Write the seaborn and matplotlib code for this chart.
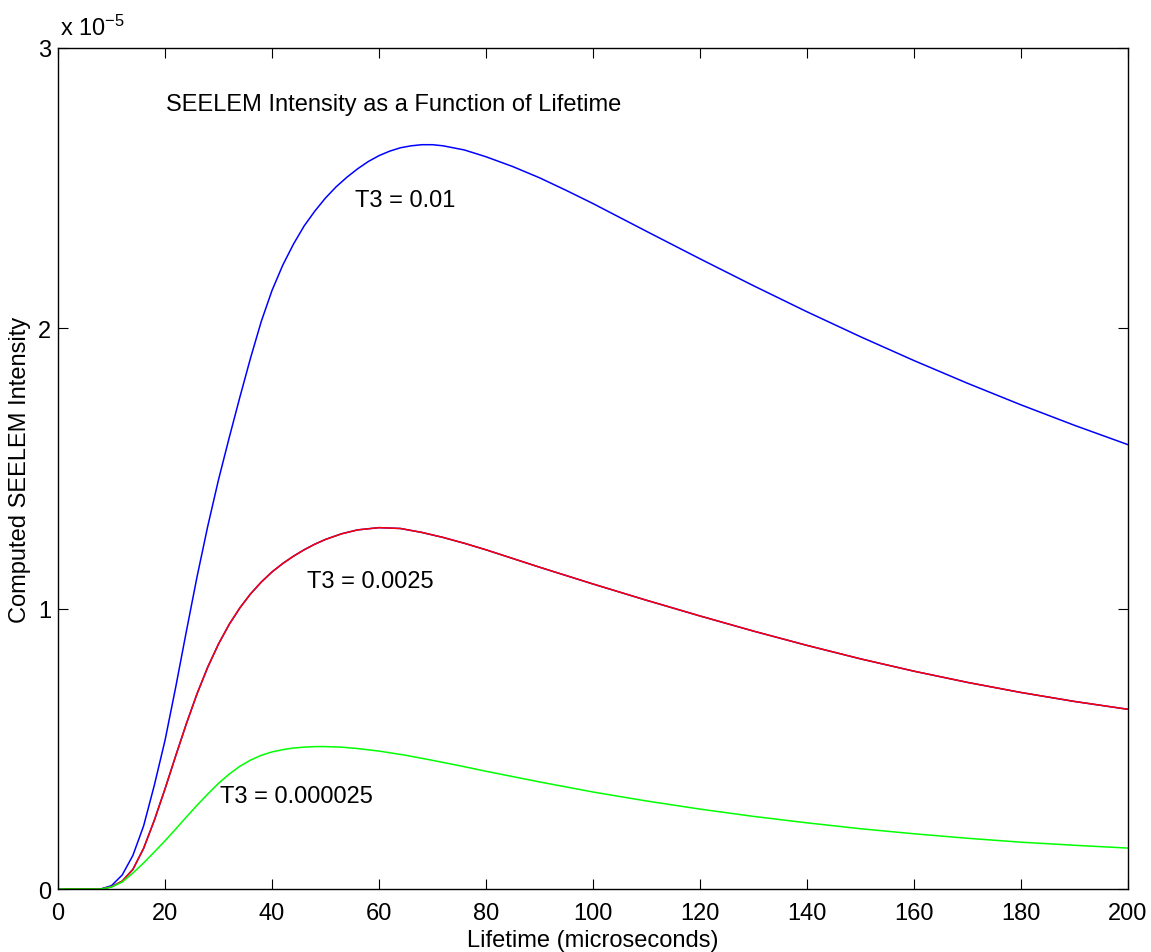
import pandas as pd
import seaborn as sns
import matplotlib.pyplot as plt

# -------------------------
# Data (intensity in units of 1e-5)
# -------------------------
lifetime_blue = [0, 5, 8, 10, 12, 14, 16, 18, 20, 22, 24, 26, 28, 30, 32, 34, 36, 38, 40,
                 42, 44, 46, 48, 50, 52, 54, 56, 58, 60, 62, 64, 66, 68, 70, 72, 76, 80,
                 85, 90, 95, 100, 110, 120, 130, 140, 150, 160, 170, 180, 190, 200]
t3_001 = [0, 0, 0, 0.012, 0.05, 0.12, 0.225, 0.37, 0.53, 0.72, 0.92, 1.115, 1.295, 1.46,
          1.61, 1.755, 1.895, 2.025, 2.135, 2.225, 2.30, 2.365, 2.418, 2.465, 2.505,
          2.539, 2.569, 2.595, 2.616, 2.632, 2.644, 2.651, 2.655, 2.655, 2.651, 2.636,
          2.612, 2.577, 2.537, 2.492, 2.445, 2.346, 2.248, 2.152, 2.059, 1.97, 1.885,
          1.804, 1.727, 1.654, 1.585]

lifetime_red = [0, 5, 8, 10, 12, 14, 16, 18, 20, 22, 24, 26, 28, 30, 32, 34, 36, 38, 40,
                42, 44, 46, 48, 50, 53, 56, 60, 64, 68, 72, 76, 80, 90, 100, 110, 120, 130,
                140, 150, 160, 170, 180, 190, 200]
t3_00025 = [0, 0, 0, 0.008, 0.028, 0.07, 0.145, 0.245, 0.357, 0.475, 0.59, 0.697, 0.792,
            0.874, 0.944, 1.003, 1.053, 1.095, 1.131, 1.161, 1.187, 1.21, 1.23, 1.247,
            1.267, 1.281, 1.289, 1.286, 1.272, 1.254, 1.233, 1.21, 1.148, 1.088, 1.03,
            0.974, 0.92, 0.869, 0.821, 0.777, 0.737, 0.701, 0.669, 0.641]

lifetime_green = [0, 5, 8, 10, 12, 14, 16, 18, 20, 22, 24, 26, 28, 30, 32, 34, 36, 38, 40,
                  42, 44, 46, 48, 50, 53, 56, 60, 65, 70, 75, 80, 90, 100, 110, 120, 130,
                  140, 150, 160, 170, 180, 190, 200]
t3_0000025 = [0, 0, 0, 0.007, 0.025, 0.057, 0.093, 0.132, 0.172, 0.214, 0.257, 0.299,
              0.339, 0.377, 0.41, 0.438, 0.46, 0.477, 0.489, 0.497, 0.503, 0.506, 0.508,
              0.508, 0.506, 0.501, 0.492, 0.477, 0.459, 0.44, 0.42, 0.382, 0.346, 0.314,
              0.285, 0.259, 0.236, 0.215, 0.197, 0.181, 0.167, 0.156, 0.146]

curve_names = ["blue_under", "T3 = 0.01", "T3 = 0.0025", "T3 = 0.000025"]

data = pd.concat([
    pd.DataFrame({"Lifetime": lifetime_red, "Intensity": t3_00025, "curve": curve_names[0]}),
    pd.DataFrame({"Lifetime": lifetime_blue, "Intensity": t3_001, "curve": curve_names[1]}),
    pd.DataFrame({"Lifetime": lifetime_red, "Intensity": t3_00025, "curve": curve_names[2]}),
    pd.DataFrame({"Lifetime": lifetime_green, "Intensity": t3_0000025, "curve": curve_names[3]}),
])

# -------------------------
# Styling (MATLAB-like)
# -------------------------
sns.set_style("ticks")
plt.rcParams["font.family"] = ["Liberation Sans", "DejaVu Sans"]
plt.rcParams["mathtext.fontset"] = "custom"
plt.rcParams["mathtext.rm"] = "Liberation Sans"
plt.rcParams["mathtext.default"] = "regular"
plt.rcParams["xtick.direction"] = "in"
plt.rcParams["ytick.direction"] = "in"
for key in ["text.color", "axes.labelcolor", "xtick.color", "ytick.color",
            "xtick.labelcolor", "ytick.labelcolor"]:
    plt.rcParams[key] = "black"

FS = 17

fig = plt.figure(figsize=(11.51, 9.53), dpi=100)
ax = fig.add_axes([0.0504, 0.0661, 0.9296, 0.8825])

sns.lineplot(
    data=data, x="Lifetime", y="Intensity", hue="curve", hue_order=curve_names,
    palette=["#0000ff", "#0000ff", "#ff0000", "#00ff00"],
    linewidth=1.1, legend=False, ax=ax, sort=False
)

ax.set_xlim(0, 200)
ax.set_ylim(0, 3)
ax.set_xticks(range(0, 201, 20))
ax.set_yticks([0, 1, 2, 3])
ax.set_yticklabels(["0", "1", "2", "3"])
ax.tick_params(labelsize=FS, length=7, width=0.8, top=True, right=True,
               colors="black")
ax.tick_params(axis="x", pad=9)
ax.tick_params(axis="y", pad=5)
for s in ax.spines.values():
    s.set_linewidth(1.0)
    s.set_color("black")

ax.set_xlabel("Lifetime (microseconds)", fontsize=FS)
ax.set_ylabel("Computed SEELEM Intensity", fontsize=FS)
ax.xaxis.set_label_coords(0.5, -0.048)
ax.yaxis.set_label_coords(-0.025, 0.5)

ax.text(0.002, 1.0155, r"x 10$^{-5}$", transform=ax.transAxes, fontsize=FS,
        ha="left", va="baseline")

ax.text(20.2, 2.80, "SEELEM Intensity as a Function of Lifetime", fontsize=FS,
        ha="left", va="center")
ax.text(55.5, 2.458, "T3 = 0.01", fontsize=FS, ha="left", va="center")
ax.text(46.5, 1.10, "T3 = 0.0025", fontsize=FS, ha="left", va="center")
ax.text(30.3, 0.332, "T3 = 0.000025", fontsize=FS, ha="left", va="center")

plt.savefig("out.png", dpi=100)
plt.close()
